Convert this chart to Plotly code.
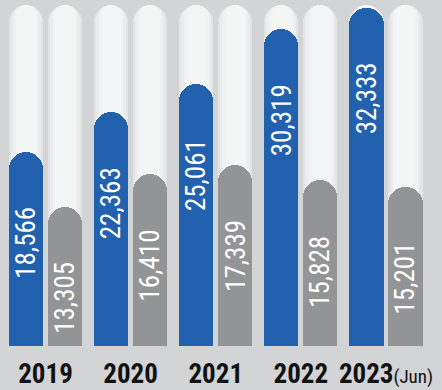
import plotly.graph_objects as go

years = ["2019", "2020", "2021", "2022", "2023"]
year_suffix = ["", "", "", "", "(Jun)"]
series_a = [18566, 22363, 25061, 30319, 32333]   # blue
series_b = [13305, 16410, 17339, 15828, 15201]   # gray
track_value = 32600

BLUE = "#2261ae"
GRAY = "#939496"
BG = "#d3d4d6"
FONT = "Liberation Sans Narrow, Arial Narrow, Roboto Condensed, sans-serif"

idx = list(range(len(years)))
off = 0.229
w = 0.4
xa = [i - off for i in idx]
xb = [i + off for i in idx]
YR = [0, 33078]

fig = go.Figure()
layers = []
# background tracks (layered to mimic soft shading)
for frac, col in [(1.0, "#e3e4e6"), (0.88, "#ebeced"), (0.72, "#f1f2f3"), (0.56, "#f4f5f5")]:
    layers.append(dict(x=xa + xb, y=[track_value] * (2 * len(idx)), width=w * frac, color=col, hover=False))
layers.append(dict(x=xa, y=series_a, width=w, color=BLUE, hover=True))
layers.append(dict(x=xb, y=series_b, width=w, color=GRAY, hover=True))

layout_axes = {}
for k, L in enumerate(layers):
    yname = "y" if k == 0 else f"y{k+1}"
    fig.add_trace(go.Bar(x=L["x"], y=L["y"], width=L["width"], yaxis=yname,
                         marker=dict(color=L["color"], cornerradius="50%", line_width=0),
                         hoverinfo=None if L["hover"] else "skip", showlegend=False))
    key = "yaxis" if k == 0 else f"yaxis{k+1}"
    ax = dict(range=YR, visible=False, showgrid=False, zeroline=False)
    if k > 0:
        ax["overlaying"] = "y"
    layout_axes[key] = ax

annotations = []
for xs, vals in ((xa, series_a), (xb, series_b)):
    for x, v in zip(xs, vals):
        annotations.append(dict(x=x, y=v, xref="x", yref="y", text=f"{v:,}",
                                textangle=-90, showarrow=False, xanchor="center", yanchor="middle",
                                yshift=-91, font=dict(family=FONT, size=27, color="white")))

ticktext = [f"<b>{y}</b>" + (f"<span style='font-size:19px;font-weight:normal'>{s}</span>" if s else "")
            for y, s in zip(years, year_suffix)]

fig.update_layout(
    width=442, height=390,
    margin=dict(l=0, r=0, t=0, b=35),
    paper_bgcolor=BG, plot_bgcolor=BG,
    barmode="overlay", bargap=0,
    annotations=annotations,
    xaxis=dict(range=[-0.5345, 4.658], tickvals=idx, ticktext=ticktext, showgrid=False,
               zeroline=False, showline=False, ticks="", ticklabelstandoff=9,
               tickfont=dict(family=FONT, size=27, color="#111111")),
    **layout_axes,
)

fig.write_html("out.html")
